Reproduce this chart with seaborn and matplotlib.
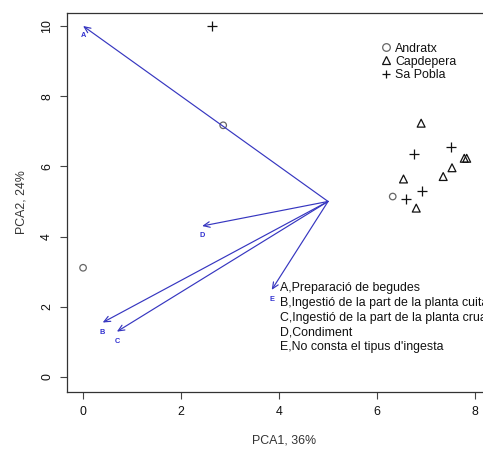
import matplotlib
matplotlib.use("Agg")
import matplotlib.pyplot as plt
import seaborn as sns
import pandas as pd
from matplotlib.lines import Line2D

# site scores
andratx_x = [2.86, 0.0, 6.32]
andratx_y = [7.17, 3.11, 5.14]
capdepera_x = [6.90, 6.54, 6.80, 7.35, 7.53, 7.78, 7.83]
capdepera_y = [7.23, 5.64, 4.81, 5.71, 5.96, 6.23, 6.23]
sapobla_x = [2.63, 6.76, 7.50, 6.92, 6.60]
sapobla_y = [10.0, 6.34, 6.54, 5.30, 5.06]

# variable arrows (start at the centre)
arrow_origin = (5.0, 5.0)
arrow_names = ["A", "B", "C", "D", "E"]
arrow_x = [0.0, 0.40, 0.69, 2.43, 3.85]
arrow_y = [10.0, 1.55, 1.29, 4.30, 2.48]

legend_lines = ["A,Preparació de begudes",
                "B,Ingestió de la part de la planta cuita",
                "C,Ingestió de la part de la planta crua",
                "D,Condiment",
                "E,No consta el tipus d'ingesta"]

xticks = [0, 2, 4, 6, 8]
yticks = [0, 2, 4, 6, 8, 10]

df = pd.concat([
    pd.DataFrame({"x": andratx_x, "y": andratx_y, "site": "Andratx"}),
    pd.DataFrame({"x": capdepera_x, "y": capdepera_y, "site": "Capdepera"}),
    pd.DataFrame({"x": sapobla_x, "y": sapobla_y, "site": "Sa Pobla"}),
])

sns.set_style("white")
plt.rcParams["font.family"] = ["Liberation Sans", "DejaVu Sans"]

fig = plt.figure(figsize=(4.83, 4.5), dpi=100)
ax = fig.add_axes([67 / 483, 1 - 392 / 450, 434 / 483, 379 / 450])

styles = {"Andratx": ("o", "#666666", 22),
          "Capdepera": ("^", "#111111", 32),
          "Sa Pobla": ("+", "#111111", 48)}
for site, (m, c, s) in styles.items():
    sub = df[df.site == site]
    if m == "+":
        sns.scatterplot(data=sub, x="x", y="y", marker=m, color=c, s=s,
                        linewidth=0.9, ax=ax, legend=False)
    else:
        sns.scatterplot(data=sub, x="x", y="y", marker=m, s=s,
                        facecolor="none", edgecolor=c, linewidth=0.9,
                        ax=ax, legend=False)

arrow_col = "#3636c0"
for name, ex, ey in zip(arrow_names, arrow_x, arrow_y):
    ax.annotate("", xy=(ex, ey), xytext=arrow_origin,
                arrowprops=dict(arrowstyle="->,head_length=0.45,head_width=0.2",
                                color=arrow_col, lw=0.85, shrinkA=0, shrinkB=0))
    ax.text(ex, ey - 0.28, name, color="#3030d0", fontsize=5.3, fontweight="bold",
            ha="center", va="center")

handles = [Line2D([], [], marker=styles[k][0], linestyle="none",
                  markerfacecolor="none", markeredgecolor=styles[k][1],
                  color=styles[k][1], markersize=5.5, markeredgewidth=0.9)
           for k in styles]
ax.legend(handles, list(styles.keys()), frameon=False, fontsize=8.9,
          loc="upper left", bbox_to_anchor=(0.71, 0.935), handletextpad=0.2,
          handlelength=1.0, labelspacing=0.1, borderaxespad=0,
          labelcolor="#111111")

for i, line in enumerate(legend_lines):
    ax.text(4.02, 2.52 - i * 0.42, line, fontsize=8.9, color="#111111",
            ha="left", va="center")

ax.set_xlim(-0.328, 8.53)
ax.set_ylim(-0.43, 10.37)
ax.set_xticks(xticks)
ax.set_yticks(yticks)
ax.set_xticklabels([str(t) for t in xticks], fontsize=8.9)
ax.set_yticklabels([str(t) for t in yticks], fontsize=8.9,
                   rotation=90, va="center")
ax.tick_params(direction="out", length=5, width=0.8, bottom=True, left=True,
               pad=5, colors="#444444", labelcolor="#111111")
ax.set_xlabel("PCA1, 36%", fontsize=8.9, color="#333333", labelpad=12)
ax.set_ylabel("PCA2, 24%", fontsize=8.9, color="#333333", labelpad=10)
for sp in ax.spines.values():
    sp.set_color("#333333")
    sp.set_linewidth(0.9)

fig.savefig("out.png", dpi=100)
